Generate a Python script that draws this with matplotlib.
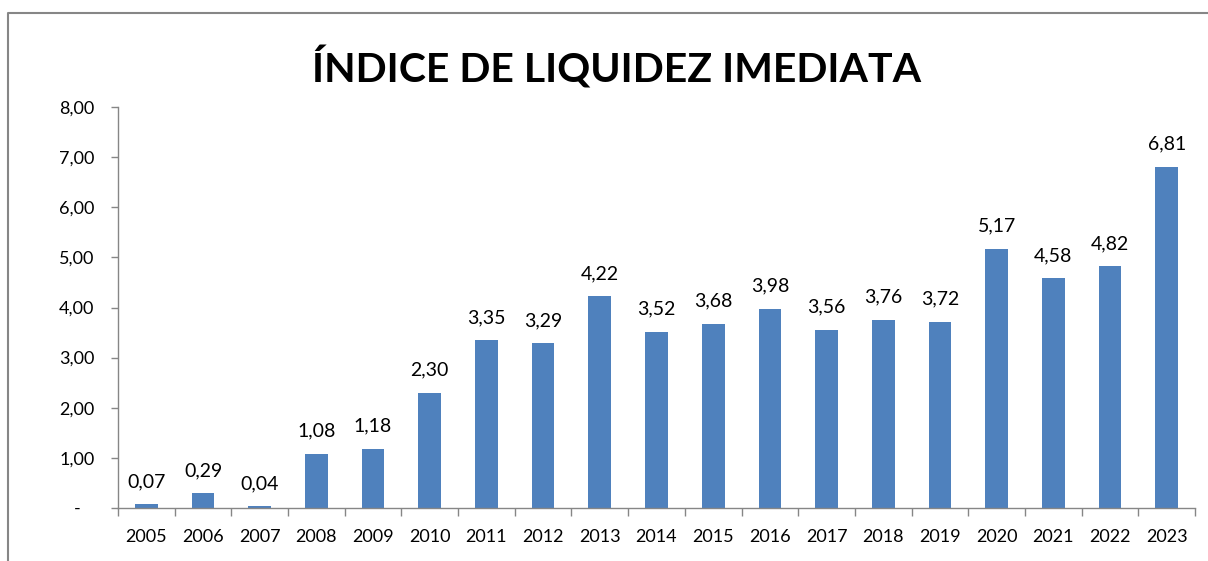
import matplotlib.pyplot as plt
from matplotlib.lines import Line2D

anos = ['2005', '2006', '2007', '2008', '2009', '2010', '2011', '2012', '2013', '2014',
        '2015', '2016', '2017', '2018', '2019', '2020', '2021', '2022', '2023']
indice = [0.07, 0.29, 0.04, 1.08, 1.18, 2.30, 3.35, 3.29, 4.22, 3.52,
          3.68, 3.98, 3.56, 3.76, 3.72, 5.17, 4.58, 4.82, 6.81]
y_ticks = [0, 1, 2, 3, 4, 5, 6, 7, 8]

plt.rcParams['font.family'] = ['Lato', 'DejaVu Sans']

fig = plt.figure(figsize=(12.08, 5.61), dpi=100)
ax = fig.add_axes([118 / 1208, 1 - 508 / 561, (1195 - 118) / 1208, (508 - 107) / 561])

x = list(range(len(anos)))
bars = ax.bar(x, indice, width=0.4, color='#4F81BD', zorder=2)

def fmt(v):
    return ('%.2f' % v).replace('.', ',')

for xi, v in zip(x, indice):
    ax.text(xi, v + 0.28, fmt(v), ha='center', va='bottom', fontsize=14, color='black')

ax.set_xlim(-0.5, len(anos) - 0.5)
ax.set_ylim(0, 8)
ax.set_yticks(y_ticks)
ax.set_yticklabels(['-   '] + [fmt(t) for t in y_ticks[1:]], fontsize=13)
ax.set_xticks(x)
ax.set_xticklabels(anos, fontsize=13)
ax.set_xticks([i - 0.5 for i in range(len(anos) + 1)], minor=True)
ax.tick_params(axis='x', which='major', length=0, pad=15)
ax.tick_params(axis='x', which='minor', length=6, color='#868686', width=1)
ax.tick_params(axis='y', length=5, color='#868686', width=1, pad=12)

for s in ['top', 'right']:
    ax.spines[s].set_visible(False)
for s in ['left', 'bottom']:
    ax.spines[s].set_color('#868686')
    ax.spines[s].set_linewidth(1)

fig.text(0.5 + 0.01, 1 - 68 / 561, 'ÍNDICE DE LIQUIDEZ IMEDIATA', ha='center', va='center',
         fontsize=29.5, fontweight='bold')

# borda da área do gráfico
fig.add_artist(Line2D([8 / 1208, 8 / 1208, 1.0], [0.0, 1 - 13 / 561, 1 - 13 / 561],
                      transform=fig.transFigure, color='#868686', lw=1.5))

fig.savefig('out.png', dpi=100)
